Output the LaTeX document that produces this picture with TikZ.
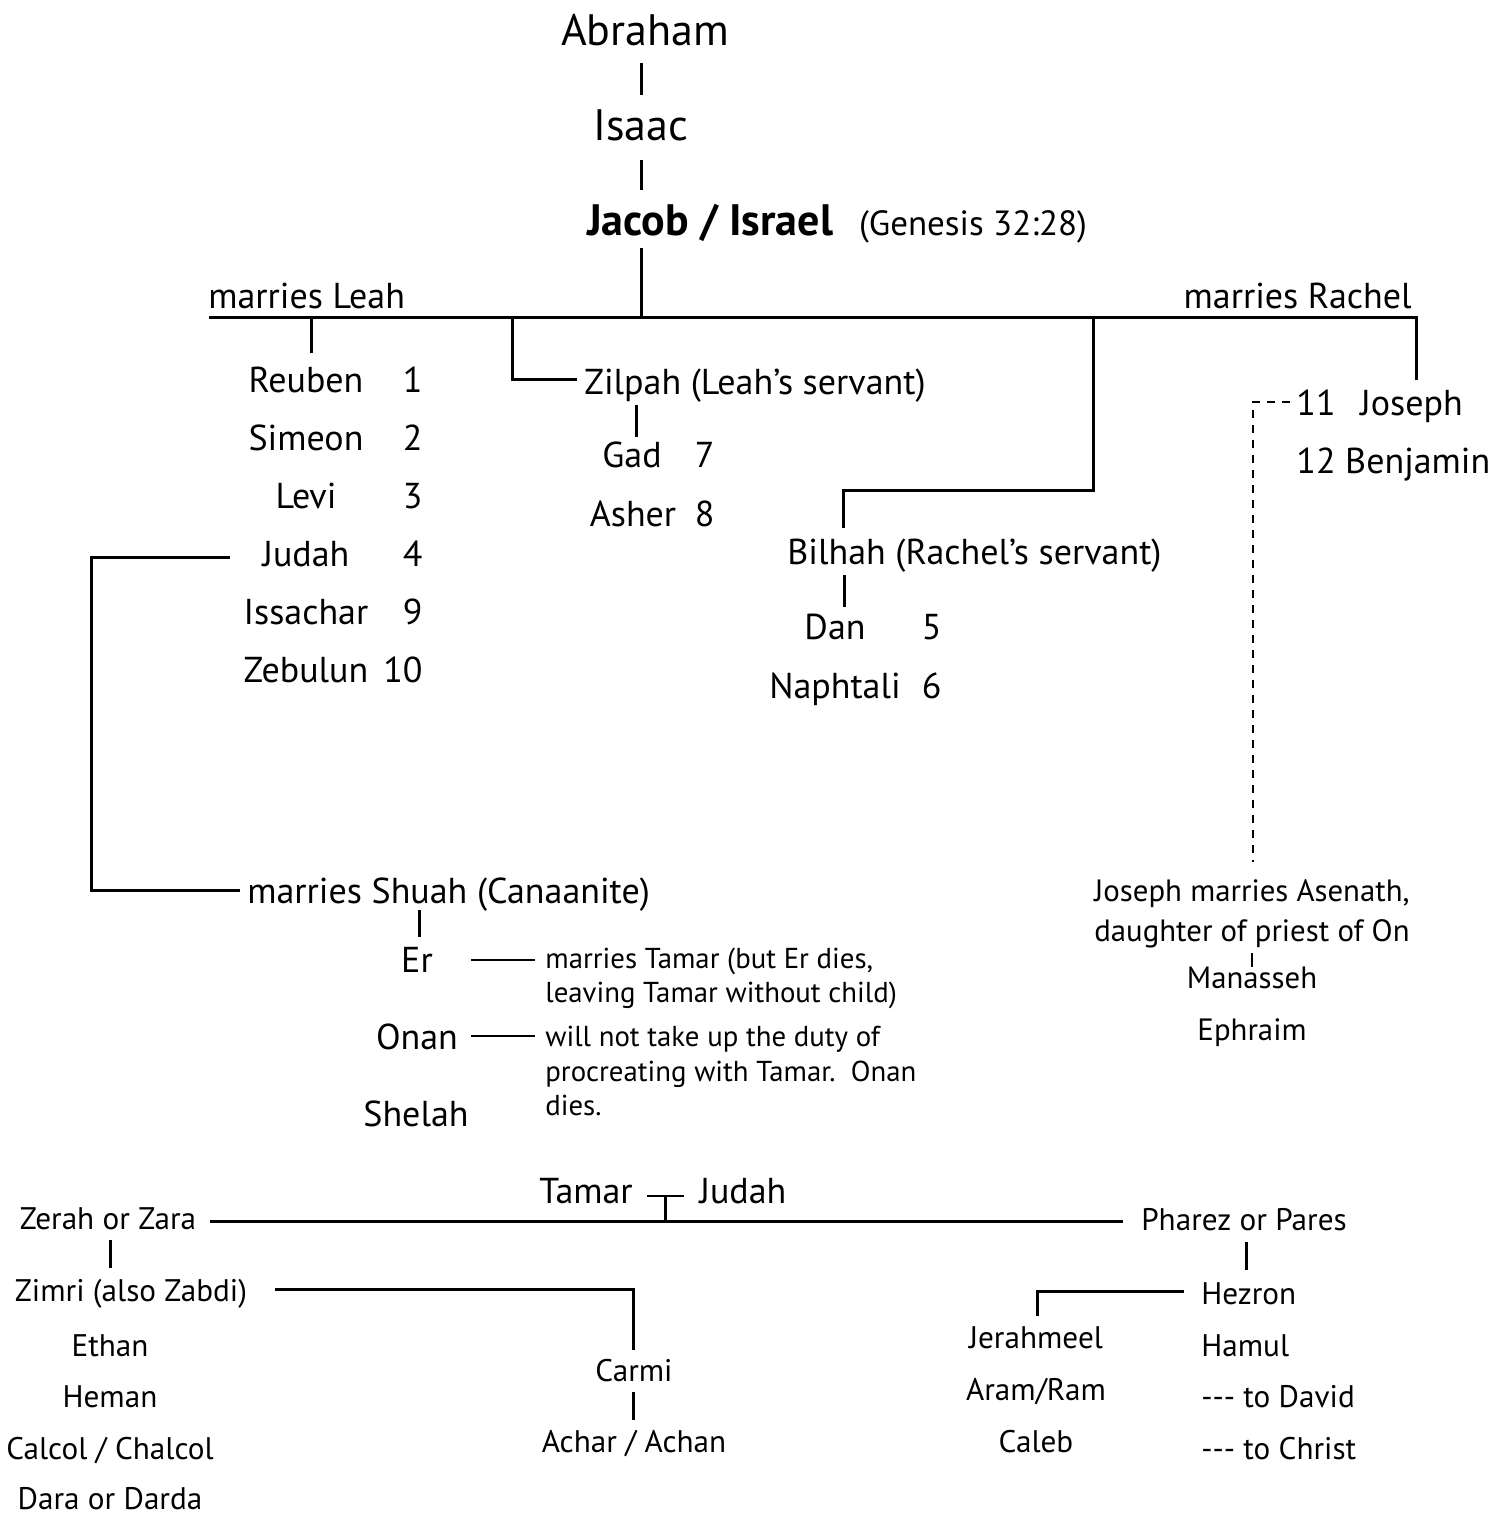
\documentclass[tikz,border=0pt]{standalone}
\usepackage{fontspec}
\setmainfont{PT Sans}
\begin{document}
\begin{tikzpicture}[x=0.5pt,y=-0.5pt]
\tikzset{
 big/.style={font=\fontsize{22}{26}\selectfont, inner sep=0, anchor=base},
 gen/.style={font=\fontsize{17.5}{20}\selectfont, inner sep=0, anchor=base},
 med/.style={font=\fontsize{18}{22}\selectfont, inner sep=0, anchor=base},
 asn/.style={font=\fontsize{15.4}{18}\selectfont, inner sep=0, anchor=base},
 sml/.style={font=\fontsize{15.6}{19}\selectfont, inner sep=0, anchor=base},
 note/.style={font=\fontsize{14.4}{17}\selectfont, inner sep=0, anchor=base west},
 ln/.style={line width=1.5pt},
 thinln/.style={line width=1pt},
}
\useasboundingbox (0,0) rectangle (1507,1516);
\fill[white] (0,0) rectangle (1507,1516);

% top
\node[big] (abraham) at (645,45) {Abraham};
\node[big] (isaac) at (641,140) {Isaac};
\node[big,font=\fontsize{22}{26}\selectfont\bfseries] (jacob) at (710,235) {Jacob / Israel};
\node[gen] (genesis) at (973,235) {(Genesis 32:28)};
\node[med,anchor=base west] (leah) at (208,308) {marries Leah};
\node[med,anchor=base east] (rachel) at (1412,308) {marries Rachel};

% Leah's sons
\node[med] (reuben) at (306,392) {Reuben};
\node[med] (simeon) at (306,450) {Simeon};
\node[med] (levi) at (306,508) {Levi};
\node[med] (judah) at (306,566) {Judah};
\node[med] (issachar) at (306,624) {Issachar};
\node[med] (zebulun) at (306,682) {Zebulun};
\node[med,anchor=base east] (n1) at (423,392) {1};
\node[med,anchor=base east] (n2) at (423,450) {2};
\node[med,anchor=base east] (n3) at (423,508) {3};
\node[med,anchor=base east] (n4) at (423,566) {4};
\node[med,anchor=base east] (n9) at (423,624) {9};
\node[med,anchor=base east] (n10) at (423,682) {10};

% Zilpah
\node[med,anchor=base west] (zilpah) at (584,394) {Zilpah (Leah’s servant)};
\node[med] (gad) at (632,467) {Gad};
\node[med] (asher) at (633,526) {Asher};
\node[med,anchor=base east] (n7) at (715,467) {7};
\node[med,anchor=base east] (n8) at (715,526) {8};

% Bilhah
\node[med,anchor=base west] (bilhah) at (787,564) {Bilhah (Rachel’s servant)};
\node[med] (dan) at (835,639) {Dan};
\node[med] (naphtali) at (835,698) {Naphtali};
\node[med,anchor=base east] (n5) at (942,639) {5};
\node[med,anchor=base east] (n6) at (942,698) {6};

% Rachel's sons
\node[med,anchor=base west] (n11) at (1296,415) {11};
\node[med,anchor=base west] (joseph) at (1360,415) {Joseph};
\node[med,anchor=base west] (benjamin) at (1296,473) {12 Benjamin};

% Joseph's marriage
\node[asn] (asenath) at (1252,901) {Joseph marries Asenath,};
\node[asn] (daughter) at (1252,941) {daughter of priest of On};
\node[asn] (manasseh) at (1252,988) {Manasseh};
\node[asn] (ephraim) at (1252,1040) {Ephraim};

% Judah's marriage
\node[med,anchor=base west] (shuah) at (247,903) {marries Shuah (Canaanite)};
\node[med] (er) at (417,972) {Er};
\node[med] (onan) at (417,1049) {Onan};
\node[med] (shelah) at (416,1126) {Shelah};
\node[note] (noteer1) at (545,968) {marries Tamar (but Er dies,};
\node[note] (noteer2) at (545,1002) {leaving Tamar without child)};
\node[note] (noteon1) at (545,1046) {will not take up the duty of};
\node[note] (noteon2) at (545,1081) {procreating with Tamar.\ \ Onan};
\node[note] (noteon3) at (545,1115) {dies.};

% Tamar / Judah
\node[med] (tamar) at (586,1203) {Tamar};
\node[med] (judahb) at (743,1203) {Judah};

% Zerah line
\node[sml] (zerah) at (108,1229) {Zerah or Zara};
\node[sml] (zimri) at (131,1301) {Zimri (also Zabdi)};
\node[sml] (ethan) at (110,1356) {Ethan};
\node[sml] (heman) at (110,1407) {Heman};
\node[sml] (calcol) at (110,1459) {Calcol / Chalcol};
\node[sml] (dara) at (110,1509) {Dara or Darda};
\node[sml] (carmi) at (634,1381) {Carmi};
\node[sml] (achar) at (634,1452) {Achar / Achan};

% Pharez line
\node[sml] (pharez) at (1244,1230) {Pharez or Pares};
\node[sml,anchor=base west] (hezron) at (1201,1304) {Hezron};
\node[sml,anchor=base west] (hamul) at (1201,1356) {Hamul};
\node[sml,anchor=base west] (david) at (1201,1407) {-{}-{}- to David};
\node[sml,anchor=base west] (christ) at (1201,1459) {-{}-{}- to Christ};
\node[sml] (jerahmeel) at (1036,1348) {Jerahmeel};
\node[sml] (aram) at (1036,1400) {Aram/Ram};
\node[sml] (caleb) at (1036,1452) {Caleb};

% coordinates
\coordinate (barL) at (209,317);
\coordinate (barR) at (1416,317);
\coordinate (jacobJ) at (641,317);
\coordinate (reubenJ) at (311,317);
\coordinate (zilpahJ) at (512,317);
\coordinate (bilhahJ) at (1093,317);

% connectors
\draw[ln] (641,63) -- (641,95);
\draw[ln] (641,160) -- (641,190);
\draw[ln] (641,248) -- (jacobJ);
\draw[ln] (barL) -- (barR) -- (1416,380);
\draw[ln] (reubenJ) -- (311,353);
\draw[ln] (zilpahJ) -- (512,379) -- (577,379);
\draw[ln] (636,405) -- (636,437);
\draw[ln] (bilhahJ) -- (1093,490) -- (843,490) -- (843,528);
\draw[ln] (844,575) -- (844,607);
\draw[thinln,dash pattern=on 4pt off 3.5pt] (1290,402) -- (1253,402) -- (1253,862);
\draw[ln] (230,557) -- (91,557) -- (91,890) -- (240,890);
\draw[ln] (419,910) -- (419,937);
\draw[thinln] (471,960) -- (535,960);
\draw[thinln] (471,1036) -- (535,1036);
\draw[thinln] (1252,953) -- (1252,967);
\draw[thinln] (647,1196) -- (684,1196);
\draw[ln] (665,1196) -- (665,1221);
\draw[ln] (210,1221) -- (1123,1221);
\draw[ln] (110,1240) -- (110,1268);
\draw[ln] (275,1289) -- (633,1289) -- (633,1350);
\draw[ln] (633,1392) -- (633,1420);
\draw[ln] (1246,1242) -- (1246,1270);
\draw[ln] (1184,1291) -- (1037,1291) -- (1037,1316);
\end{tikzpicture}
\end{document}
